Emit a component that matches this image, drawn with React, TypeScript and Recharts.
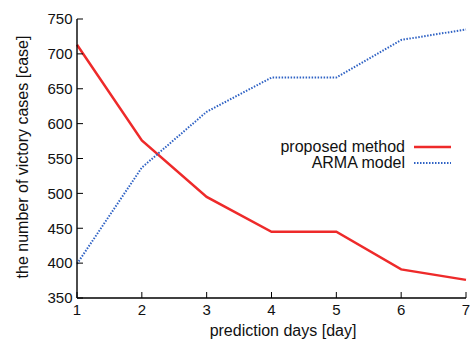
import React from 'react';
import { LineChart, Line, XAxis, YAxis, Legend } from 'recharts';

// values
const days = [1, 2, 3, 4, 5, 6, 7];
const proposedMethod = [713, 576, 495, 445, 445, 391, 376];
const armaModel = [399, 537, 617, 666, 666, 720, 735];
const yTicks = [350, 400, 450, 500, 550, 600, 650, 700, 750];
const legendOrder = ['proposed', 'arma'];

const data = days.map((d, i) => ({ day: d, proposed: proposedMethod[i], arma: armaModel[i] }));

const FONT = '"Liberation Sans", Arial, Helvetica, sans-serif';
const RED = '#ee2a2a';
const BLUE = '#2f62c4';
const INK = '#111';

const renderLegend = (props: any) => {
  const items = [...(props.payload || [])].sort(
    (a: any, b: any) => legendOrder.indexOf(a.dataKey) - legendOrder.indexOf(b.dataKey)
  );
  return (
    <div style={{ fontFamily: FONT, fontSize: 16, color: INK }}>
      {items.map((p: any) => (
        <div
          key={p.value}
          style={{ display: 'flex', alignItems: 'center', justifyContent: 'flex-end', height: 16.5 }}
        >
          <span style={{ lineHeight: '16.5px' }}>{p.value}</span>
          <svg width={37} height={6} style={{ marginLeft: 9 }}>
            <line
              x1={0}
              x2={37}
              y1={3}
              y2={3}
              stroke={p.color}
              strokeWidth={p.dataKey === 'arma' ? 2 : 2.5}
              strokeDasharray={p.dataKey === 'arma' ? '1.5 1.5' : undefined}
            />
          </svg>
        </div>
      ))}
    </div>
  );
};

const App: React.FC = () => (
  <div style={{ position: 'absolute', left: 0, top: 0, background: '#fff' }}>
    <LineChart width={473} height={339} data={data} margin={{ top: 19, right: 7, left: 0, bottom: 0 }}>
      {/* bottom axis: labels outside, ticks pointing in */}
      <XAxis
        dataKey="day"
        type="number"
        domain={[1, 7]}
        ticks={days}
        height={41}
        tickSize={-6}
        tickMargin={12.5}
        axisLine={{ stroke: '#000', strokeWidth: 1.4 }}
        tickLine={{ stroke: '#000' }}
        tick={{ fill: INK, fontSize: 15, fontFamily: FONT }}
        label={{
          content: () => (
            <text x={283} y={330} textAnchor="middle" dominantBaseline="central" fontSize={16} fontFamily={FONT} fill={INK}>
              prediction days [day]
            </text>
          ),
        }}
      />
      {/* top border with inward ticks */}
      <XAxis
        xAxisId="top"
        orientation="top"
        type="number"
        domain={[1, 7]}
        ticks={days}
        height={0}
        tickSize={-6}
        tick={false}
        axisLine={{ stroke: '#000', strokeWidth: 1.4 }}
        tickLine={{ stroke: '#000' }}
      />
      <YAxis
        type="number"
        domain={[350, 750]}
        ticks={yTicks}
        width={77}
        tickSize={-6}
        tickMargin={10.5}
        axisLine={{ stroke: '#000', strokeWidth: 1.4 }}
        tickLine={{ stroke: '#000' }}
        tick={{ fill: INK, fontSize: 15, fontFamily: FONT }}
        label={{
          content: () => (
            <text
              x={22}
              y={157}
              transform="rotate(-90 22 157)"
              textAnchor="middle"
              dominantBaseline="central"
              fontSize={16}
              fontFamily={FONT}
              fill={INK}
            >
              the number of victory cases [case]
            </text>
          ),
        }}
      />
      {/* right border with inward ticks */}
      <YAxis
        yAxisId="right"
        orientation="right"
        type="number"
        domain={[350, 750]}
        ticks={yTicks}
        width={0}
        tickSize={-6}
        tick={false}
        axisLine={{ stroke: '#000', strokeWidth: 1.4 }}
        tickLine={{ stroke: '#000' }}
      />
      <Legend
        layout="vertical"
        align="center"
        verticalAlign="middle"
        content={renderLegend}
        wrapperStyle={{ top: 138.5, left: 260, width: 191 }}
      />
      <Line
        dataKey="proposed"
        name="proposed method"
        stroke={RED}
        strokeWidth={2.5}
        dot={false}
        type="linear"
        isAnimationActive={false}
      />
      <Line
        dataKey="arma"
        name="ARMA model"
        stroke={BLUE}
        strokeWidth={2}
        strokeDasharray="1.5 1.5"
        dot={false}
        type="linear"
        isAnimationActive={false}
      />
    </LineChart>
  </div>
);

export default App;
